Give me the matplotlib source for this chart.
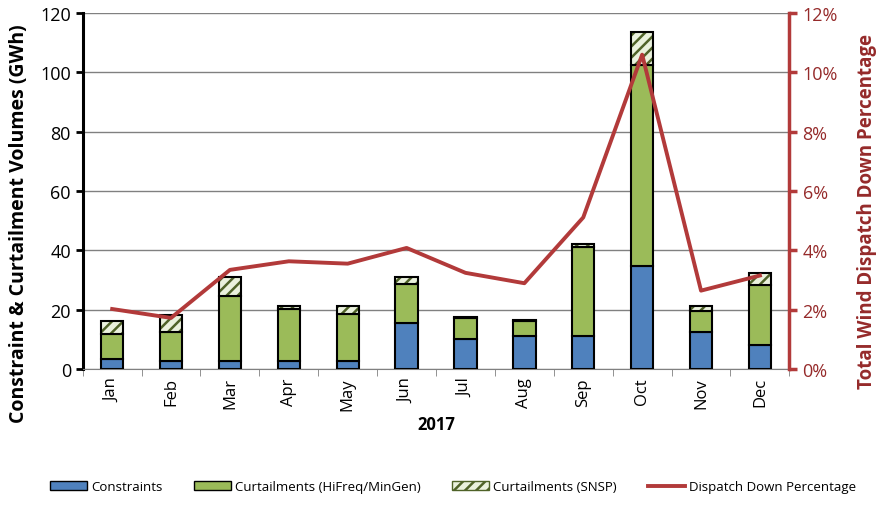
import matplotlib
matplotlib.use("Agg")
import matplotlib.pyplot as plt
import numpy as np
from matplotlib.ticker import FuncFormatter, MultipleLocator
from matplotlib.lines import Line2D
from matplotlib.patches import Patch

plt.rcParams['font.family'] = ['Open Sans', 'DejaVu Sans']
plt.rcParams['hatch.linewidth'] = 1.8

months = ["Jan", "Feb", "Mar", "Apr", "May", "Jun", "Jul", "Aug", "Sep", "Oct", "Nov", "Dec"]
constraints = [3.2, 2.6, 2.8, 2.6, 2.8, 15.5, 10.1, 11.0, 11.0, 34.6, 12.4, 7.9]
curt_hifreq = [8.4, 9.8, 21.9, 17.7, 15.7, 13.0, 7.1, 5.2, 30.0, 68.0, 7.0, 20.4]
curt_snsp = [4.7, 5.8, 6.3, 1.0, 2.6, 2.5, 0.4, 0.4, 1.1, 10.9, 1.7, 4.0]
dispatch_pct = [2.02, 1.72, 3.34, 3.63, 3.55, 4.08, 3.24, 2.89, 5.11, 10.6, 2.64, 3.15]

RED_LINE = '#B23A3A'
RED_TEXT = '#952A2A'

fig = plt.figure(figsize=(8.8, 5.06), dpi=100)
ax = fig.add_axes([0.094, 0.269, 0.803, 0.703])
x = np.arange(len(months))
w = 0.38
c = np.array(constraints)
h = np.array(curt_hifreq)
s = np.array(curt_snsp)
ax.bar(x, c, w, color='#4F81BD', edgecolor='black', linewidth=1.5, zorder=3)
ax.bar(x, h, w, bottom=c, color='#9BBB59', edgecolor='black', linewidth=1.5, zorder=3)
ax.bar(x, s, w, bottom=c + h, color='#EAF1DD', edgecolor='#4F6228', hatch='///', linewidth=0, zorder=3)
ax.bar(x, s, w, bottom=c + h, color='none', edgecolor='black', linewidth=1.5, zorder=4)

ax.set_xlim(-0.5, 11.5)
ax.set_ylim(0, 120)
ax.yaxis.set_major_locator(MultipleLocator(20))
ax.grid(axis='y', color='#808080', linewidth=1.0, zorder=0)
ax.set_xticks(x)
ax.set_xticklabels(months, rotation=90, fontsize=12)
ax.set_xticks(np.arange(-0.5, 12, 1), minor=True)
ax.tick_params(axis='x', which='major', length=0, pad=6)
ax.tick_params(axis='x', which='minor', length=5, color='#808080')
ax.tick_params(axis='y', labelsize=13, length=5, width=2)
for sp in ['top', 'right']:
    ax.spines[sp].set_visible(False)
ax.spines['left'].set_linewidth(2.2)
ax.spines['bottom'].set_color('#808080')
ax.set_ylabel('Constraint & Curtailment Volumes (GWh)', fontsize=14, fontweight='bold')
ax.yaxis.set_label_coords(-0.076, 0.41)
ax.set_xlabel('2017', fontsize=12, fontweight='bold')

ax2 = ax.twinx()
ax2.plot(x, dispatch_pct, color=RED_LINE, linewidth=2.8, zorder=5)
ax2.set_ylim(0, 12)
ax2.yaxis.set_major_locator(MultipleLocator(2))
ax2.yaxis.set_major_formatter(FuncFormatter(lambda v, p: f"{int(round(v))}%"))
for sp in ['top', 'left', 'bottom']:
    ax2.spines[sp].set_visible(False)
ax2.spines['right'].set_color(RED_LINE)
ax2.spines['right'].set_linewidth(2.5)
ax2.tick_params(axis='y', colors=RED_LINE, labelsize=13, length=6, width=2.5)
for t in ax2.get_yticklabels():
    t.set_color(RED_TEXT)
ax2.set_ylabel('Total Wind Dispatch Down Percentage', fontsize=13.5, fontweight='bold', color=RED_TEXT)
ax2.yaxis.set_label_coords(1.096, 0.445)

handles = [
    Patch(facecolor='#4F81BD', edgecolor='black', label='Constraints'),
    Patch(facecolor='#9BBB59', edgecolor='black', label='Curtailments (HiFreq/MinGen)'),
    Patch(facecolor='#EAF1DD', edgecolor='#4F6228', hatch='///', label='Curtailments (SNSP)'),
    Line2D([0], [0], color=RED_LINE, linewidth=2.8, label='Dispatch Down Percentage'),
]
fig.legend(handles=handles, loc='lower center', ncol=4, frameon=False, fontsize=9.5,
           bbox_to_anchor=(0.515, 0.0), handlelength=2.8, handleheight=0.6, columnspacing=2.4,
           handletextpad=0.3)

fig.savefig('out.png', dpi=100)
